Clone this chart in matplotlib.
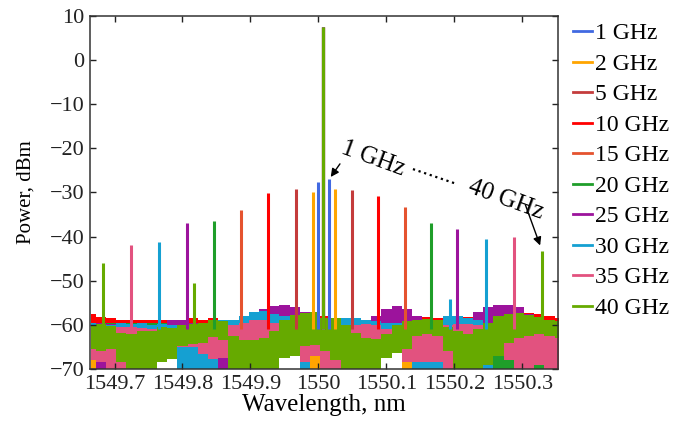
import matplotlib
matplotlib.use("Agg")
import matplotlib.pyplot as plt
from matplotlib.lines import Line2D

plt.rcParams['font.family'] = ['Liberation Serif', 'DejaVu Serif']

# series
labels = ['1 GHz', '2 GHz', '5 GHz', '10 GHz', '15 GHz',
          '20 GHz', '25 GHz', '30 GHz', '35 GHz', '40 GHz']
colors = ['#4169e1', '#ffa500', '#c43c3c', '#ff0000', '#e5532f',
          '#1f9e2a', '#9c139c', '#15a0d2', '#e2527f', '#66aa00']

# carrier and first-order sidebands
carrier_nm = 1550.007
carrier_dbm = 7.4
sb_left_nm = [1549.9996, 1549.9918, 1549.9672, 1549.9265, 1549.8868,
              1549.8466, 1549.8065, 1549.7657, 1549.7246, 1549.6838]
sb_left_dbm = [-27.6, -29.8, -29.2, -30.2, -34.0, -36.4, -37.0, -41.2, -41.9, -45.9]
sb_right_nm = [1550.0162, 1550.0246, 1550.0491, 1550.0882, 1550.1275,
               1550.1657, 1550.2044, 1550.2466, 1550.2882, 1550.3285]
sb_right_dbm = [-27.0, -29.3, -29.5, -30.8, -33.2, -37.0, -38.2, -40.6, -40.2, -43.2]

# small spurs (series index, wavelength, level)
spur_series = [9, 7]
spur_nm = [1549.8176, 1550.1937]
spur_dbm = [-50.6, -54.2]

# noise floor envelopes (top / bottom), sampled every 0.015 nm
wl_grid = [1549.665, 1549.680, 1549.695, 1549.710, 1549.725, 1549.740, 1549.755, 1549.770,
           1549.785, 1549.800, 1549.815, 1549.830, 1549.845, 1549.860, 1549.875, 1549.890,
           1549.905, 1549.920, 1549.935, 1549.950, 1549.965, 1549.980, 1549.995, 1550.010,
           1550.025, 1550.040, 1550.055, 1550.070, 1550.085, 1550.100, 1550.115, 1550.130,
           1550.145, 1550.160, 1550.175, 1550.190, 1550.205, 1550.220, 1550.235, 1550.250,
           1550.265, 1550.280, 1550.295, 1550.310, 1550.325, 1550.340, 1550.355]

top_misc = [-59.5] * 47
bot_misc = [-64.0] * 47
bot_2 = [-70.0, -64.0, -64.0, -64.0, -64.0, -64.0, -64.0, -64.0, -64.0, -64.0, -64.0, -64.0,
         -64.0, -64.0, -64.0, -64.0, -64.0, -64.0, -64.0, -64.0, -64.0, -70.0, -70.0, -64.0,
         -64.0, -64.0, -64.0, -64.0, -64.0, -64.0, -64.0, -70.0, -64.0, -64.0, -64.0, -64.0,
         -64.0, -64.0, -64.0, -64.0, -64.0, -64.0, -64.0, -64.0, -64.0, -64.0, -64.0]
bot_20 = [-64.0, -64.0, -64.0, -64.0, -64.0, -64.0, -64.0, -64.0, -64.0, -64.0, -64.0, -64.0,
          -64.0, -64.0, -64.0, -64.0, -64.0, -64.0, -64.0, -64.0, -64.0, -64.0, -64.0, -64.0,
          -64.0, -64.0, -64.0, -64.0, -64.0, -64.0, -64.0, -64.0, -64.0, -64.0, -64.0, -64.0,
          -64.0, -64.0, -64.0, -64.0, -70.0, -70.0, -64.0, -64.0, -70.0, -64.0, -64.0]

top_10 = [-57.5, -58.3, -58.5, -59.0, -59.0, -58.8, -59.0, -58.8, -59.0, -58.8, -58.5, -58.8,
          -58.5, -58.8, -59.0, -58.5, -58.0, -58.0, -58.0, -58.0, -57.5, -57.3, -57.0, -58.0,
          -58.5, -59.0, -59.0, -59.0, -59.0, -58.8, -58.5, -58.3, -58.0, -58.3, -58.5, -58.8,
          -58.5, -58.3, -58.0, -57.8, -57.5, -57.5, -57.5, -57.3, -57.5, -58.0, -58.5]
bot_10 = [-63.0] * 47

top_25 = [-59.5, -59.5, -59.8, -60.0, -60.0, -60.0, -60.0, -59.8, -59.0, -59.0, -59.5, -59.5,
          -60.0, -60.0, -59.5, -59.0, -58.0, -56.5, -55.8, -55.5, -56.0, -57.0, -58.5, -59.5,
          -60.0, -60.0, -60.0, -59.5, -58.0, -56.5, -55.8, -56.5, -58.0, -59.5, -60.0, -60.0,
          -59.5, -58.5, -57.0, -56.0, -55.5, -55.5, -56.0, -57.5, -59.0, -59.5, -59.5]
bot_25 = [-64.0, -70.0, -64.0, -64.0, -64.0, -64.0, -64.0, -64.0, -64.0, -64.0, -64.0, -64.0,
          -64.0, -70.0, -70.0, -64.0, -64.0, -64.0, -64.0, -64.0, -64.0, -64.0, -64.0, -70.0,
          -64.0, -64.0, -64.0, -64.0, -64.0, -64.0, -64.0, -64.0, -64.0, -64.0, -64.0, -64.0,
          -64.0, -64.0, -64.0, -64.0, -64.0, -64.0, -64.0, -64.0, -64.0, -70.0, -64.0]

top_30 = [-59.5, -60.0, -60.0, -59.5, -59.8, -59.5, -60.0, -59.8, -60.0, -60.0, -60.0, -59.5,
          -59.5, -59.0, -59.0, -58.0, -57.0, -56.8, -57.5, -58.0, -58.5, -58.5, -59.0, -59.0,
          -59.0, -58.5, -58.5, -59.0, -59.2, -59.5, -59.5, -59.2, -59.0, -59.0, -58.8, -58.0,
          -58.0, -58.5, -59.0, -59.5, -59.5, -60.0, -60.0, -60.0, -60.0, -59.5, -60.0]
bot_30 = [-68.0, -68.0, -66.0, -66.0, -66.0, -66.0, -66.0, -66.0, -66.0, -70.0, -70.0, -70.0,
          -70.0, -66.0, -66.0, -66.0, -66.0, -66.0, -66.0, -66.0, -66.0, -70.0, -67.0, -66.0,
          -66.0, -65.0, -65.0, -65.0, -65.0, -65.0, -65.0, -66.0, -70.0, -70.0, -70.0, -66.0,
          -66.0, -66.0, -66.0, -70.0, -66.0, -66.0, -66.0, -66.0, -66.0, -66.0, -66.0]

top_35 = [-61.5, -61.5, -61.0, -60.5, -60.5, -60.8, -61.0, -61.5, -62.0, -62.0, -62.0, -62.0,
          -62.0, -61.5, -60.0, -59.5, -59.0, -59.0, -59.5, -61.0, -62.0, -62.0, -62.0, -61.0,
          -60.5, -60.0, -60.0, -59.8, -60.0, -61.0, -62.0, -62.0, -62.0, -62.0, -61.0, -60.0,
          -59.8, -59.7, -60.0, -60.5, -61.5, -62.0, -62.0, -62.0, -62.0, -62.0, -62.0]
bot_35 = [-68.0, -68.5, -70.0, -70.0, -70.0, -70.0, -70.0, -66.0, -66.0, -65.0, -65.0, -66.5,
          -67.7, -67.5, -70.0, -70.0, -70.0, -70.0, -70.0, -66.0, -66.0, -68.5, -67.0, -70.0,
          -70.0, -70.0, -70.0, -70.0, -70.0, -65.0, -65.5, -68.5, -68.5, -68.5, -68.5, -70.0,
          -70.0, -70.0, -70.0, -66.0, -66.0, -68.0, -70.0, -70.0, -69.0, -70.0, -70.0]

top_40 = [-60.0, -59.8, -60.3, -61.8, -62.0, -61.3, -61.5, -60.5, -60.8, -60.0, -59.8, -59.5,
          -59.0, -59.2, -62.5, -63.5, -63.5, -63.0, -61.5, -58.8, -57.8, -57.3, -57.0, -58.5,
          -58.5, -60.0, -61.8, -63.0, -63.2, -62.0, -60.0, -59.2, -58.8, -58.6, -58.8, -60.5,
          -61.5, -62.0, -61.0, -59.5, -58.0, -57.5, -57.3, -57.8, -58.2, -58.8, -59.2]
bot_40 = [-65.4, -66.0, -65.5, -68.5, -70.0, -70.0, -70.0, -68.5, -67.8, -64.8, -64.3, -64.0,
          -62.8, -63.5, -70.0, -70.0, -70.0, -70.0, -70.0, -67.5, -67.0, -64.7, -64.5, -66.0,
          -68.0, -70.0, -70.0, -70.0, -70.0, -67.5, -66.3, -65.5, -62.5, -62.0, -62.5, -66.0,
          -70.0, -70.0, -70.0, -69.0, -67.0, -64.2, -63.0, -62.5, -62.0, -62.5, -63.0]

noise_top = [top_misc, top_misc, top_misc, top_10, top_misc,
             top_misc, top_25, top_30, top_35, top_40]
noise_bot = [bot_misc, bot_2, bot_misc, bot_10, bot_misc,
             bot_20, bot_25, bot_30, bot_35, bot_40]

fig = plt.figure(figsize=(6.81, 4.30), dpi=100)
ax = fig.add_axes([0.1322, 0.1419, 0.6868, 0.8209])

spike_base = -61
for i in range(len(labels)):
    c = colors[i]
    ax.fill_between(wl_grid, noise_bot[i], noise_top[i], color=c, lw=0, step='mid')
    xs = [carrier_nm, sb_left_nm[i], sb_right_nm[i]]
    ys = [carrier_dbm, sb_left_dbm[i], sb_right_dbm[i]]
    for s, n, d in zip(spur_series, spur_nm, spur_dbm):
        if s == i:
            xs.append(n)
            ys.append(d)
    ax.vlines(xs, spike_base, ys, colors=c, lw=2.2)

ax.set_xlim(1549.664, 1550.352)
ax.set_ylim(-70, 10)
ax.set_xticks([1549.7, 1549.8, 1549.9, 1550.0, 1550.1, 1550.2, 1550.3])
ax.set_xticklabels(['1549.7', '1549.8', '1549.9', '1550', '1550.1', '1550.2', '1550.3'])
ax.set_yticks(range(-70, 11, 10))
ax.tick_params(direction='in', top=True, right=True, length=4, width=1,
               labelsize=16, pad=4, colors='#222222')
for sp in ax.spines.values():
    sp.set_linewidth(1.1)
    sp.set_color('#333333')

ax.set_xlabel('Wavelength, nm', fontsize=18, labelpad=0)
ax.set_ylabel('Power, dBm', fontsize=15, labelpad=10)

# annotations
ax.annotate('', xy=(1550.0157, -27.0), xytext=(1550.034, -23.0),
            arrowprops=dict(arrowstyle='-|>', color='k', lw=1, mutation_scale=12))
ax.annotate('', xy=(1550.3275, -42.6), xytext=(1550.303, -32.2),
            arrowprops=dict(arrowstyle='-|>', color='k', lw=1, mutation_scale=12))
ax.text(1550.0804, -22.4, '1 GHz', rotation=-20, ha='center', va='center', fontsize=18)
ax.text(1550.276, -31.7, '40 GHz', rotation=-20, ha='center', va='center', fontsize=18)
ax.plot([1550.139, 1550.204], [-24.7, -28.1], ls=':', color='k', lw=1.6)

handles = [Line2D([0], [0], color=c, lw=2) for c in colors]
fig.legend(handles, labels, loc='upper left', bbox_to_anchor=(0.8414, 0.947),
           frameon=False, fontsize=17, handlelength=0.8, handletextpad=0.15,
           labelspacing=0.38, borderpad=0, borderaxespad=0)

fig.savefig('out.png', dpi=100)
